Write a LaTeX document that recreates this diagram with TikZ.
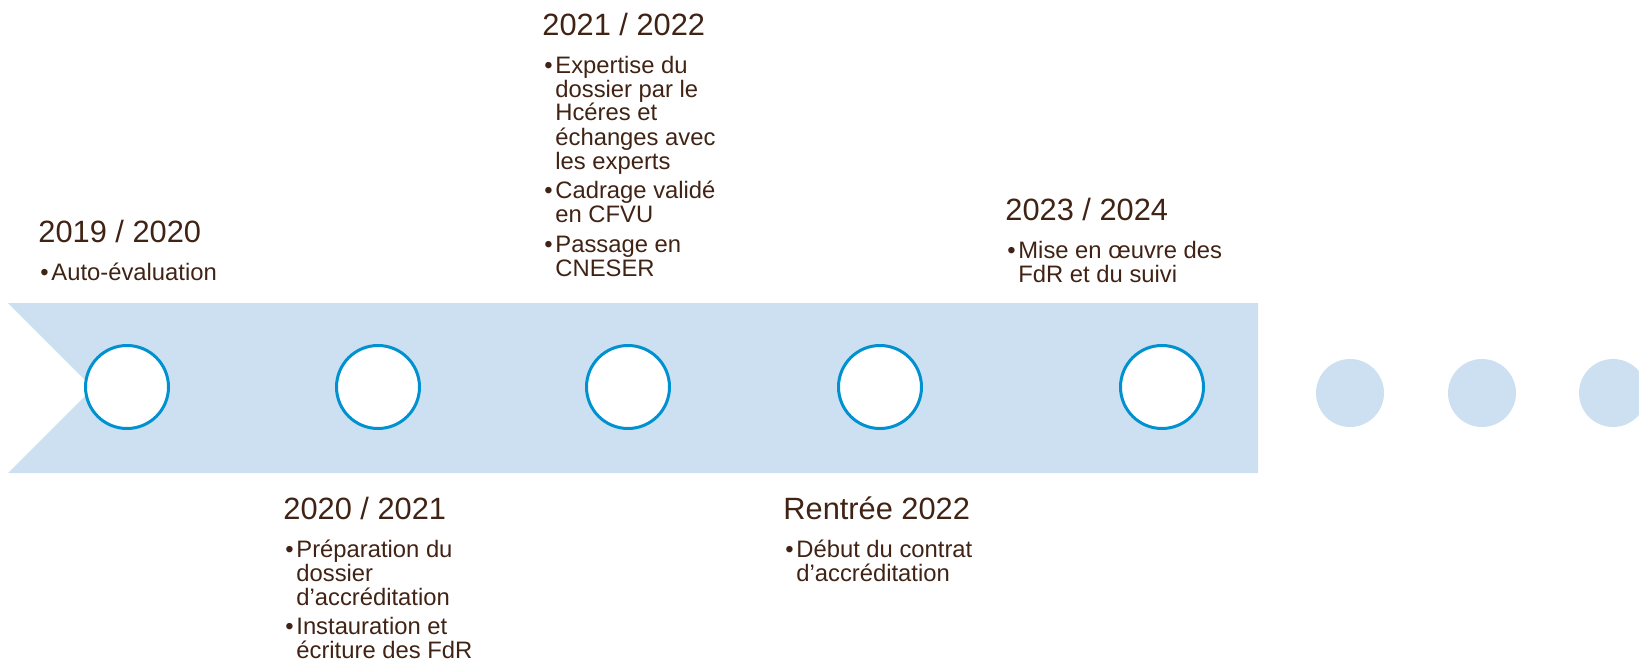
\documentclass[tikz,border=0pt]{standalone}
\usepackage{fontspec}
\setmainfont{Liberation Sans}
\usepackage{tikz}
\usepackage{xcolor}
\usetikzlibrary{positioning}
\newcommand{\itm}[1]{\par\hangindent=6.5pt\hangafter=1\noindent\makebox[6.5pt][l]{\kern1pt\textbullet}#1}
\newcommand{\blk}[1]{\parbox[t]{160pt}{\fontsize{11.9}{12}\selectfont\setlength{\parskip}{2.8pt}#1}}

\begin{document}
\begin{tikzpicture}[x=0.5pt, y=-0.5pt,
		stage/.style={draw=RING_BLUE, line width=1.5pt, circle, fill=white, inner sep=0pt, minimum size=41.5pt},
		dot/.style={circle, fill=BAND_BLUE, inner sep=0pt, minimum size=34pt},
		year/.style={anchor=base west, inner sep=0pt, text=TEXT_BROWN, font={\fontsize{15.4}{18}\selectfont}},
		items/.style={anchor=base west, inner sep=0pt, text=TEXT_BROWN}]
				\definecolor{BAND_BLUE}{RGB}{204, 224, 242}
				\definecolor{RING_BLUE}{RGB}{0, 146, 208}
				\definecolor{TEXT_BROWN}{RGB}{64, 35, 20}
				\useasboundingbox (0, 0) rectangle (1639, 664);
				\fill[BAND_BLUE] (8, 303) -- (1258, 303) -- (1258, 473) -- (8, 473) -- (93, 388) -- cycle;
				\node[stage] (c0) at (127, 387) {};
				\node[stage] (c1) at (378, 387) {};
				\node[stage] (c2) at (628, 387) {};
				\node[stage] (c3) at (880, 387) {};
				\node[stage] (c4) at (1162, 387) {};
				\node[dot] (d0) at (1350, 393) {};
				\node[dot] (d1) at (1482, 393) {};
				\node[dot] (d2) at (1613, 393) {};
				\node[year] (h0) at (38, 242) {2019 / 2020};
				\node[items] (b0) at ([yshift=-19pt]h0.base west) {\blk{\itm{Auto-évaluation}}};
				\node[year] (h1) at (283, 519) {2020 / 2021};
				\node[items] (b1) at ([yshift=-19pt]h1.base west) {\blk{\itm{Préparation du\\dossier\\d’accréditation}\itm{Instauration et\\écriture des FdR}}};
				\node[year] (h2) at (542, 35) {2021 / 2022};
				\node[items] (b2) at ([yshift=-19pt]h2.base west) {\blk{\itm{Expertise du\\dossier par le\\Hcéres et\\échanges avec\\les experts}\itm{Cadrage validé\\en CFVU}\itm{Passage en\\CNESER}}};
				\node[year] (h3) at (783, 519) {Rentrée 2022};
				\node[items] (b3) at ([yshift=-19pt]h3.base west) {\blk{\itm{Début du contrat\\d’accréditation}}};
				\node[year] (h4) at (1005, 220) {2023 / 2024};
				\node[items] (b4) at ([yshift=-19pt]h4.base west) {\blk{\itm{Mise en œuvre des\\FdR et du suivi}}};
\end{tikzpicture}
\end{document}
